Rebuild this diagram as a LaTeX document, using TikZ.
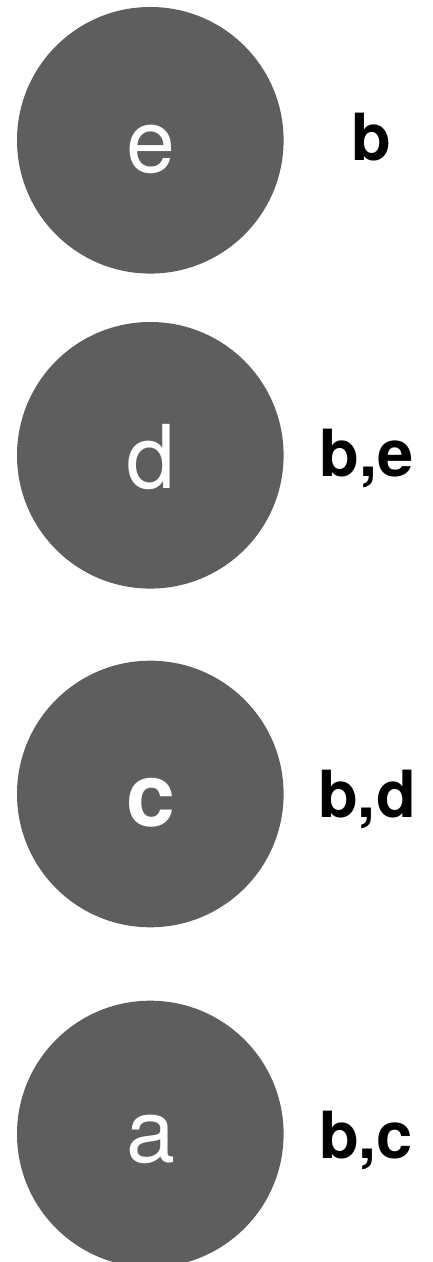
\documentclass[tikz,border=0pt]{standalone}
\usepackage{fontspec}
\setmainfont{TeX Gyre Heros}
\definecolor{discgray}{HTML}{5E5E5E}
\begin{document}
\begin{tikzpicture}[x=1pt,y=1pt,
  disc/.style={circle, fill=discgray, draw=none, minimum size=266.6pt, inner sep=0pt},
  disctext/.style={anchor=base, text=white, font=\fontsize{88}{88}\selectfont, inner sep=0pt},
  sidetext/.style={anchor=base, text=black, font=\fontsize{65}{65}\selectfont\bfseries, inner sep=0pt}]
\useasboundingbox (0,0) rectangle (432,1262);
\node[disc] (e) at (150.3,1121.7) {};
\node[disc] (d) at (150.3,806.7) {};
\node[disc] (c) at (150.3,468) {};
\node[disc] (a) at (150.3,128) {};
\node[disctext] (te) at (150.5,1089) {e};
\node[disctext] (td) at (150.5,773) {d};
\node[disctext, font=\fontsize{88}{88}\selectfont\bfseries] (tc) at (151,435) {c};
\node[disctext] (ta) at (150.5,99) {a};
\node[sidetext] (le) at (371,1101) {b};
\node[sidetext] (ld) at (366.5,785) {b,e};
\node[sidetext] (lc) at (367,444) {b,d};
\node[sidetext] (la) at (366,103) {b,c};
\end{tikzpicture}
\end{document}
